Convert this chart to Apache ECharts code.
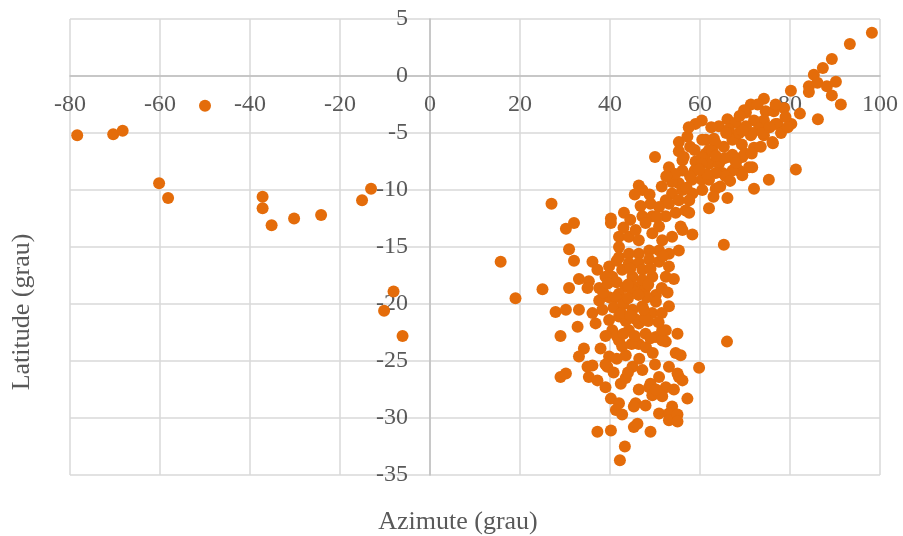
<!DOCTYPE html>
<html>
<head>
<meta charset="utf-8">
<script src="https://cdn.jsdelivr.net/npm/echarts@6/dist/echarts.min.js"></script>
<style>
  html, body { margin: 0; padding: 0; background: #ffffff; }
  #chart { width: 903px; height: 536px; }
</style>
</head>
<body>
<div id="chart"></div>
<script>
// Azimuth (degrees) of each observation
const azimute = [
  -78.4, -70.4, -68.3, -50.0, -60.2, -58.2, -37.2, -37.2, -35.2, -30.2, -24.2, -15.1, -13.1, -8.1, -10.2, -6.1,
  98.2, 93.3, 89.3, 87.3, 85.3, 84.2, 84.2, 86.1, 88.2, 90.2, 89.3, 91.3, 86.2, 80.2, 82.2, 80.3, 78.7, 74.2, 71.3, 70.2,
  74.6, 76.4, 77.2, 74.2, 72.0, 73.1, 71.3, 74.2, 76.2, 72.0, 66.1, 67.9, 64.2, 66.4, 60.4, 61.3, 63.1, 65.3, 67.9, 69.3,
  66.8, 69.4, 70.9, 68.7, 61.3, 62.0, 64.2, 65.0, 81.3, 75.3,
  50.0, 53.1, 59.0, 55.3, 57.2, 55.3, 56.1, 59.0, 60.5, 63.5, 69.8, 76.8, 79.0, 76.8, 76.1, 66.4, 67.2, 71.6, 73.9, 70.2,
  56.4, 56.1, 62.0, 60.4, 60.4, 64.6, 67.2, 68.7, 71.6, 69.4, 67.2, 65.7, 63.5, 62.0, 60.4, 58.2, 55.3, 53.8, 63.5, 60.5,
  58.3, 56.1, 53.8, 52.4, 66.1, 62.0, 72.0, 46.4, 47.2, 49.0, 50.9, 53.1, 55.3, 57.6, 47.2, 49.4, 52.4, 54.6, 56.8, 43.1,
  40.2, 55.7,
  27.0, 30.2, 32.0, 30.9, 32.0, 25.0, 30.9, 33.1, 36.1, 37.2, 35.3, 37.6, 39.8, 40.2, 42.0, 42.0, 42.0, 44.2, 45.7, 46.4,
  47.9, 49.4, 50.9, 51.6, 53.8, 56.1, 58.3, 55.3, 53.1, 50.9, 48.7, 46.4, 44.2, 44.2, 46.4, 48.7, 50.9, 53.1, 52.4, 54.2,
  49.4, 47.2, 45.0, 42.7, 40.5, 43.5, 45.7, 47.9, 42.0, 39.8, 50.2, 57.6,
  19.0, 15.7, 35.0, 27.9, 30.2, 33.1, 29.0, 32.8, 34.2, 33.1, 36.1, 37.9, 39.8, 36.8, 36.1, 37.6, 41.3, 38.3, 39.8, 42.0,
  40.5, 42.0, 42.7, 44.2, 46.4, 45.0, 47.2, 49.4, 47.9, 46.4, 50.2, 52.4, 52.4, 55.0, 53.1, 50.2, 45.0, 47.2, 39.0, 39.8,
  54.6, 55.7, 59.8, 53.1, 45.0,
  29.0, 30.2, 35.3, 35.0, 37.2, 39.0, 40.2, 42.0, 42.4, 43.5, 39.0, 46.4, 48.7, 49.4, 45.7, 47.9, 50.9, 55.3, 52.4, 54.2,
  51.6, 53.8, 57.2, 51.6, 51.6,
  39.4, 41.3, 42.7, 45.3, 49.0, 50.2, 45.3, 46.1, 49.0, 37.2, 40.2, 43.3, 42.2, 55.0, 56.1, 50.9, 53.1, 53.1, 55.0, 55.0,
  65.3, 66.0,
  38.5, 40.8, 43.0, 44.0, 45.5, 48.5, 43.5, 41.5, 44.8, 48.0, 49.5, 46.5, 43.5, 41.5, 40.8, 44.0, 47.2, 50.0, 44.5, 41.5,
  48.2, 51.5, 52.8, 51.5, 50.8, 49.0, 51.8, 43.0, 44.5, 46.8, 45.5, 48.8, 51.5, 50.4, 57.0, 58.8, 57.8, 62.8, 65.5, 63.0,
  39.5, 41.5, 44.0, 46.3, 48.5, 42.5, 44.5, 47.7, 39.0, 43.0, 45.5, 49.0, 47.5,
  62.5, 63.5, 65.8, 68.0, 70.0, 71.5, 73.5, 69.5, 68.8, 72.8, 75.5, 78.0, 79.5, 61.5, 64.5, 66.7, 57.8, 59.8, 58.8, 57.5,
  54.5, 52.5
];

// Latitude (degrees) of each observation, same order as azimute
const latitude = [
  -5.2, -5.1, -4.8, -2.6, -9.4, -10.7, -10.6, -11.6, -13.1, -12.5, -12.2, -10.9, -9.9, -18.9, -20.6, -22.8,
  3.8, 2.8, 1.5, 0.7, 0.1, -0.9, -1.4, -0.6, -0.9, -0.5, -1.7, -2.5, -3.8, -1.3, -3.3, -4.2, -2.8, -2.0, -2.5, -3.2,
  -3.1, -3.1, -4.2, -3.9, -3.9, -4.6, -5.2, -5.2, -5.9, -6.3, -3.8, -4.1, -4.4, -4.7, -3.9, -5.6, -5.5, -6.2, -5.3, -6.0,
  -7.1, -7.1, -8.0, -8.3, -6.8, -7.7, -7.7, -8.5, -8.2, -9.1,
  -7.1, -8.0, -4.2, -5.8, -5.3, -6.6, -7.4, -7.5, -5.6, -5.9, -3.0, -2.5, -3.6, -4.2, -5.8, -5.0, -5.6, -5.0, -5.0, -4.4,
  -7.1, -8.3, -6.5, -7.1, -7.7, -7.4, -6.9, -5.0, -8.0, -8.7, -8.3, -8.8, -8.5, -9.1, -9.1, -9.1, -9.4, -9.3, -9.9, -10.0,
  -10.3, -10.0, -10.3, -10.9, -10.7, -11.6, -9.9, -9.6, -10.0, -11.2, -11.5, -11.2, -10.9, -10.9, -12.3, -12.3, -12.3, -12.0, -11.8, -12.0,
  -12.5, -13.2,
  -11.2, -13.4, -12.9, -15.2, -16.2, -18.7, -18.6, -17.8, -16.3, -17.0, -18.0, -18.6, -17.8, -12.9, -14.1, -15.0, -15.9, -14.1, -13.5, -14.4,
  -12.9, -13.8, -13.2, -14.4, -14.1, -13.5, -13.9, -15.3, -15.6, -15.3, -15.3, -15.6, -15.6, -16.4, -16.4, -16.1, -16.3, -16.7, -17.6, -17.8,
  -17.6, -17.0, -17.6, -17.0, -17.6, -18.5, -18.5, -18.6, -19.1, -19.4, -19.2, -12.0,
  -19.5, -16.3, -18.6, -20.7, -20.5, -20.5, -22.8, -22.0, -23.9, -24.6, -25.4, -23.9, -24.6, -21.7, -20.8, -19.7, -19.4, -20.5, -21.4, -21.1,
  -22.3, -23.2, -23.7, -22.3, -21.7, -20.5, -20.2, -20.8, -22.6, -23.5, -22.9, -22.3, -23.3, -22.6, -20.2, -19.8, -18.8, -17.9, -17.6, -16.7,
  -24.3, -24.5, -25.6, -25.5, -25.5,
  -26.4, -26.1, -26.4, -25.5, -26.7, -27.3, -28.3, -28.7, -27.0, -26.5, -25.3, -27.5, -27.3, -28.0, -28.7, -28.9, -26.4, -26.4, -27.3, -27.5,
  -28.1, -29.0, -28.3, -23.2, -22.3,
  -25.5, -29.3, -29.7, -29.0, -27.0, -27.5, -30.8, -30.5, -31.2, -31.2, -31.1, -32.5, -33.7, -26.1, -26.7, -29.6, -29.6, -30.2, -29.7, -30.3,
  -14.8, -23.3,
  -19.0, -20.3, -20.0, -19.5, -21.3, -21.5, -21.5, -22.8, -23.5, -23.8, -24.3, -24.8, -24.5, -24.8, -26.0, -26.0, -25.8, -25.3, -16.9, -16.2,
  -19.4, -18.6, -19.0, -20.8, -21.6, -16.9, -15.8, -13.3, -12.6, -11.4, -10.4, -10.4, -9.7, -12.4, -9.8, -8.3, -6.2, -6.6, -7.2, -10.6,
  -18.2, -18.1, -18.3, -19.2, -18.3, -20.8, -21.0, -21.2, -22.8, -22.6, -22.8, -23.0, -20.5,
  -4.5, -7.0, -5.0, -7.6, -6.8, -6.8, -6.2, -4.8, -3.5, -2.5, -4.5, -5.0, -4.5, -8.6, -9.7, -9.2, -8.8, -8.2, -6.5, -4.5,
  -8.6, -8.8
];

// Axis tick ranges
const xTicks = { min: -80, max: 100, step: 20 };
const yTicks = { min: -35, max: 5, step: 5 };

const points = azimute.map((a, i) => [a, latitude[i]]);

// Plot box in pixels
const box = { left: 70, right: 23, top: 19, bottom: 61, width: 903, height: 536 };
const plotW = box.width - box.left - box.right;
const plotH = box.height - box.top - box.bottom;
// Distance from the plot edges to the zero lines, so the axes cross at the origin
const yAxisShift = plotW * (0 - xTicks.min) / (xTicks.max - xTicks.min);
const xAxisShift = plotH * (0 - yTicks.min) / (yTicks.max - yTicks.min);

const serif = '"Liberation Serif", "Times New Roman", serif';
const labelColor = '#595959';
const gridColor = '#D9D9D9';
const axisColor = '#BFBFBF';

const chart = echarts.init(document.getElementById('chart'), null, { renderer: 'canvas' });

chart.setOption({
  backgroundColor: '#ffffff',
  animation: false,
  grid: { left: box.left, right: box.right, top: box.top, bottom: box.bottom, containLabel: false },
  xAxis: {
    type: 'value',
    position: 'bottom',
    offset: -xAxisShift,
    min: xTicks.min, max: xTicks.max, interval: xTicks.step,
    axisLine: { show: true, onZero: false, lineStyle: { color: axisColor, width: 1.5 } },
    axisTick: { show: false },
    axisLabel: { show: true, showMinLabel: true, showMaxLabel: true, margin: 17,
                 color: labelColor, fontFamily: serif, fontSize: 24 },
    splitLine: { show: true, lineStyle: { color: gridColor, width: 1.5 } }
  },
  yAxis: {
    type: 'value',
    position: 'left',
    offset: -yAxisShift,
    min: yTicks.min, max: yTicks.max, interval: yTicks.step,
    axisLine: { show: true, onZero: false, lineStyle: { color: axisColor, width: 1.5 } },
    axisTick: { show: false },
    axisLabel: { show: true, showMinLabel: true, showMaxLabel: true, margin: 22,
                 color: labelColor, fontFamily: serif, fontSize: 24 },
    splitLine: { show: true, lineStyle: { color: gridColor, width: 1.5 } }
  },
  graphic: [
    { type: 'text', x: 22, y: 312, rotation: Math.PI / 2,
      style: { text: 'Latitude (grau)', font: '26px ' + serif, fill: labelColor,
               textAlign: 'center', textVerticalAlign: 'middle' } },
    { type: 'text', x: 458, y: 522,
      style: { text: 'Azimute (grau)', font: '26px ' + serif, fill: labelColor,
               textAlign: 'center', textVerticalAlign: 'middle' } }
  ],
  series: [{
    type: 'scatter',
    data: points,
    symbol: 'circle',
    symbolSize: 12,
    itemStyle: { color: '#E46C0A', opacity: 1 }
  }]
});
</script>
</body>
</html>
